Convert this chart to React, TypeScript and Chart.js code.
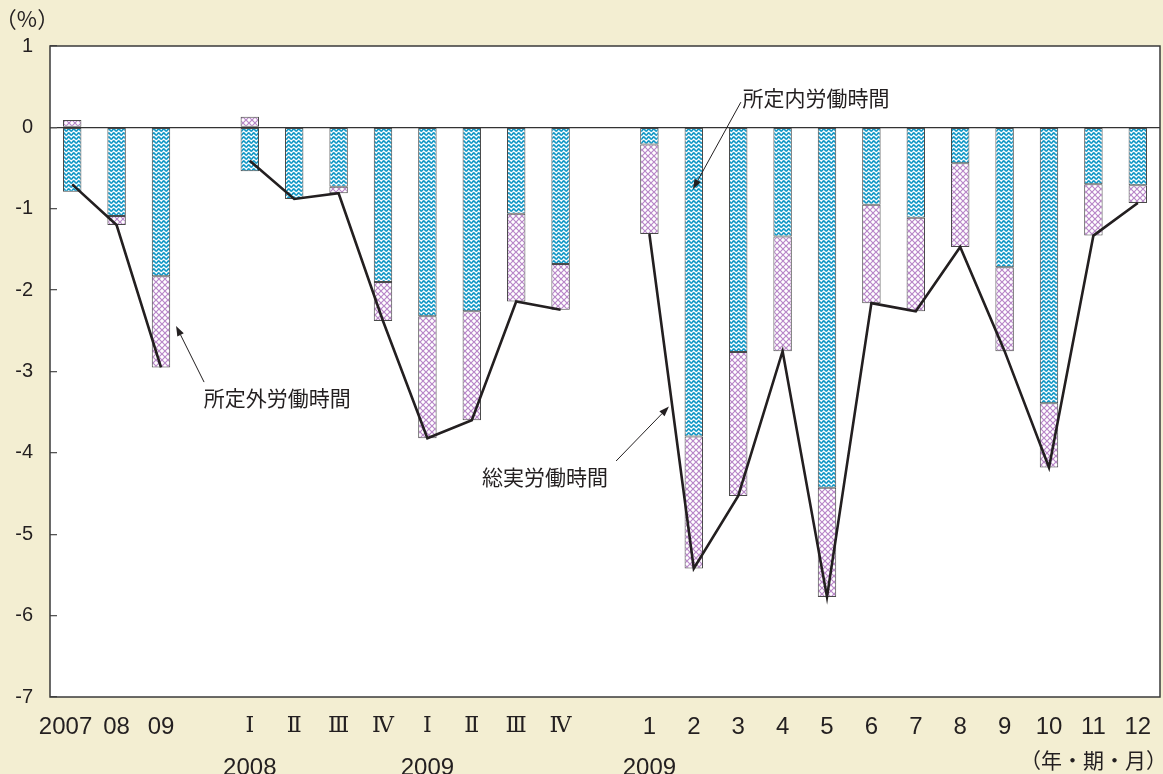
import React, { useEffect, useRef } from "react";
import { Chart, registerables } from "chart.js";

Chart.register(...registerables);

// ---- data ----
const categories = [
  "2007  ", "08", "09", "",
  "Ⅰ", "Ⅱ", "Ⅲ", "Ⅳ", "Ⅰ", "Ⅱ", "Ⅲ", "Ⅳ", "",
  "1", "2", "3", "4", "5", "6", "7", "8", "9", "10", "11", "12",
];
const yearLabels = [
  "", "", "", "",
  "2008", "", "", "", "2009", "", "", "", "",
  "2009", "", "", "", "", "", "", "", "", "", "（年・期・月）", "",
];
const romanIndices = [4, 5, 6, 7, 8, 9, 10, 11];

// 所定内労働時間 (scheduled hours), % change
const scheduledHours = [
  -0.79, -1.09, -1.83, null,
  -0.54, -0.88, -0.73, -1.90, -2.32, -2.26, -1.06, -1.68, null,
  -0.21, -3.80, -2.76, -1.34, -4.43, -0.95, -1.11, -0.44, -1.72, -3.39, -0.70, -0.71,
];
// 所定外労働時間 (non-scheduled hours), contribution
const nonScheduledHours = [
  0.09, -0.11, -1.12, null,
  0.13, 0, -0.08, -0.48, -1.50, -1.34, -1.08, -0.56, null,
  -1.10, -1.62, -1.77, -1.41, -1.34, -1.21, -1.15, -1.03, -1.03, -0.79, -0.63, -0.22,
];
// 総実労働時間 (total hours worked)
const totalHours = [
  -0.70, -1.20, -2.95, null,
  -0.41, -0.88, -0.81, -2.38, -3.82, -3.60, -2.14, -2.24, null,
  -1.31, -5.42, -4.53, -2.75, -5.77, -2.16, -2.26, -1.47, -2.75, -4.18, -1.33, -0.93,
];

const yMin = -7;
const yMax = 1;
const yStep = 1;
const unitLabel = "（%）";

// annotation labels: [category index, value]
const annotationTexts = ["所定内労働時間", "所定外労働時間", "総実労働時間"];
const annotationTextAt = [
  [16.75, 0.36],
  [4.62, -3.32],
  [10.65, -4.3],
];
const annotationArrowFrom = [
  [15.06, 0.31],
  [2.97, -3.13],
  [12.25, -4.1],
];
const annotationArrowTo = [
  [13.98, -0.76],
  [2.34, -2.44],
  [13.44, -3.43],
];

// ---- styles ----
const CREAM = "#f3eed2";
const INK = "#231f20";
const SANS = '"Liberation Sans", Arial, sans-serif';
const SERIF = '"DejaVu Serif", "Liberation Serif", serif';
const JP = '"Noto Sans CJK JP", sans-serif';

function makeWavePattern(ctx: CanvasRenderingContext2D) {
  const c = document.createElement("canvas");
  const W = 5, H = 4;
  c.width = W;
  c.height = H;
  const g = c.getContext("2d")!;
  g.fillStyle = "#ffffff";
  g.fillRect(0, 0, W, H);
  g.strokeStyle = "#1398c6";
  g.lineWidth = 1.7;
  for (const off of [-H, 0, H]) {
    g.beginPath();
    for (let x = -1; x <= W + 1; x += 0.25) {
      const y = 2 + off + 1.1 * Math.sin((2 * Math.PI * x) / W);
      if (x === -1) g.moveTo(x, y);
      else g.lineTo(x, y);
    }
    g.stroke();
  }
  return ctx.createPattern(c, "repeat")!;
}

function makeHatchPattern(ctx: CanvasRenderingContext2D) {
  const c = document.createElement("canvas");
  const S = 6;
  c.width = S;
  c.height = S;
  const g = c.getContext("2d")!;
  g.fillStyle = "#ffffff";
  g.fillRect(0, 0, S, S);
  g.strokeStyle = "#b886c8";
  g.lineWidth = 1.2;
  g.beginPath();
  g.moveTo(-1, -1);
  g.lineTo(S + 1, S + 1);
  g.moveTo(-1, S + 1);
  g.lineTo(S + 1, -1);
  g.stroke();
  return ctx.createPattern(c, "repeat")!;
}

const backgroundPlugin = {
  id: "bgPlugin",
  beforeDraw(chart: any) {
    const { ctx, chartArea } = chart;
    ctx.save();
    ctx.fillStyle = CREAM;
    ctx.fillRect(0, 0, chart.width, chart.height);
    ctx.fillStyle = "#ffffff";
    ctx.fillRect(chartArea.left, chartArea.top, chartArea.right - chartArea.left, chartArea.bottom - chartArea.top);
    ctx.restore();
  },
  afterDraw(chart: any) {
    const { ctx, chartArea, scales } = chart;
    const x = scales.x;
    const y = scales.y;
    ctx.save();
    // plot frame
    ctx.strokeStyle = "#3a3a3a";
    ctx.lineWidth = 1.5;
    ctx.strokeRect(chartArea.left, chartArea.top, chartArea.right - chartArea.left, chartArea.bottom - chartArea.top);

    // unit label
    ctx.fillStyle = INK;
    ctx.font = `22px ${JP}`;
    ctx.textAlign = "center";
    ctx.textBaseline = "middle";
    ctx.fillText(unitLabel, 27, 19);

    // annotations
    ctx.font = `21px ${JP}`;
    for (let i = 0; i < annotationTexts.length; i++) {
      const tx = x.getPixelForValue(annotationTextAt[i][0]);
      const ty = y.getPixelForValue(annotationTextAt[i][1]);
      ctx.fillStyle = INK;
      ctx.fillText(annotationTexts[i], tx, ty);
      const x1 = x.getPixelForValue(annotationArrowFrom[i][0]);
      const y1 = y.getPixelForValue(annotationArrowFrom[i][1]);
      const x2 = x.getPixelForValue(annotationArrowTo[i][0]);
      const y2 = y.getPixelForValue(annotationArrowTo[i][1]);
      const ang = Math.atan2(y2 - y1, x2 - x1);
      const len = 10, half = 3.6;
      const bx = x2 - len * Math.cos(ang);
      const by = y2 - len * Math.sin(ang);
      ctx.strokeStyle = INK;
      ctx.lineWidth = 1;
      ctx.beginPath();
      ctx.moveTo(x1, y1);
      ctx.lineTo(bx, by);
      ctx.stroke();
      ctx.beginPath();
      ctx.moveTo(x2, y2);
      ctx.lineTo(bx + half * Math.sin(ang), by - half * Math.cos(ang));
      ctx.lineTo(bx - half * Math.sin(ang), by + half * Math.cos(ang));
      ctx.closePath();
      ctx.fill();
    }
    ctx.restore();
  },
};

export default function App() {
  const canvasRef = useRef<HTMLCanvasElement | null>(null);

  useEffect(() => {
    document.body.style.margin = "0";
    document.body.style.background = CREAM;
    const canvas = canvasRef.current!;
    const ctx = canvas.getContext("2d")!;
    const wave = makeWavePattern(ctx);
    const hatch = makeHatchPattern(ctx);

    const chart = new Chart(ctx, {
      type: "bar",
      data: {
        labels: categories,
        datasets: [
          {
            type: "line",
            label: "総実労働時間",
            data: totalHours,
            borderColor: INK,
            borderWidth: 2.6,
            pointRadius: 0,
            spanGaps: false,
            tension: 0,
            stack: "total",
            order: 0,
          } as any,
          {
            type: "bar",
            label: "所定内労働時間",
            data: scheduledHours,
            backgroundColor: wave,
            borderColor: "#4a4a4a",
            borderWidth: 1,
            borderSkipped: false,
            stack: "hours",
            order: 2,
            barPercentage: 0.415,
            categoryPercentage: 1,
          },
          {
            type: "bar",
            label: "所定外労働時間",
            data: nonScheduledHours,
            backgroundColor: hatch,
            borderColor: "#4a4a4a",
            borderWidth: 1,
            borderSkipped: false,
            stack: "hours",
            order: 2,
            barPercentage: 0.415,
            categoryPercentage: 1,
          },
        ],
      },
      options: {
        responsive: false,
        animation: false,
        devicePixelRatio: 1,
        layout: { padding: { top: 46, right: 3, left: 0, bottom: 0 } },
        plugins: {
          legend: { display: false },
          tooltip: { enabled: false },
          title: { display: false },
        },
        scales: {
          x: {
            type: "category",
            position: "bottom",
            stacked: true,
            offset: true,
            weight: 0,
            grid: { display: false },
            border: { display: false },
            ticks: {
              autoSkip: false,
              maxRotation: 0,
              padding: 8,
              color: INK,
              font: (c: any) =>
                romanIndices.includes(c.index)
                  ? { family: SERIF, size: 22 }
                  : { family: SANS, size: 24 },
            },
            afterFit: (s: any) => {
              s.height = 44;
            },
          },
          xYear: {
            type: "category",
            position: "bottom",
            labels: yearLabels,
            offset: true,
            weight: 1,
            grid: { display: false },
            border: { display: false },
            ticks: {
              autoSkip: false,
              maxRotation: 0,
              padding: 5,
              color: INK,
              font: (c: any) =>
                c.index === 23
                  ? { family: JP, size: 21, lineHeight: 0.55 }
                  : { family: SANS, size: 24 },
            },
            afterFit: (s: any) => {
              s.height = 33;
            },
          },
          y: {
            type: "linear",
            stacked: true,
            min: yMin,
            max: yMax,
            border: { display: false },
            grid: {
              drawOnChartArea: true,
              color: (c: any) => (c.tick && c.tick.value === 0 ? "#333333" : "rgba(0,0,0,0)"),
              lineWidth: 1.3,
              tickColor: "#555555",
              tickLength: -7,
            },
            ticks: {
              stepSize: yStep,
              padding: 24,
              color: INK,
              font: { family: SANS, size: 20 },
            },
            afterFit: (s: any) => {
              s.width = 50;
            },
          },
        },
      } as any,
      plugins: [backgroundPlugin],
    });
    return () => chart.destroy();
  }, []);

  return (
    <div style={{ width: 1163, height: 774, background: CREAM }}>
      <canvas ref={canvasRef} width={1163} height={774} style={{ display: "block" }} />
    </div>
  );
}
